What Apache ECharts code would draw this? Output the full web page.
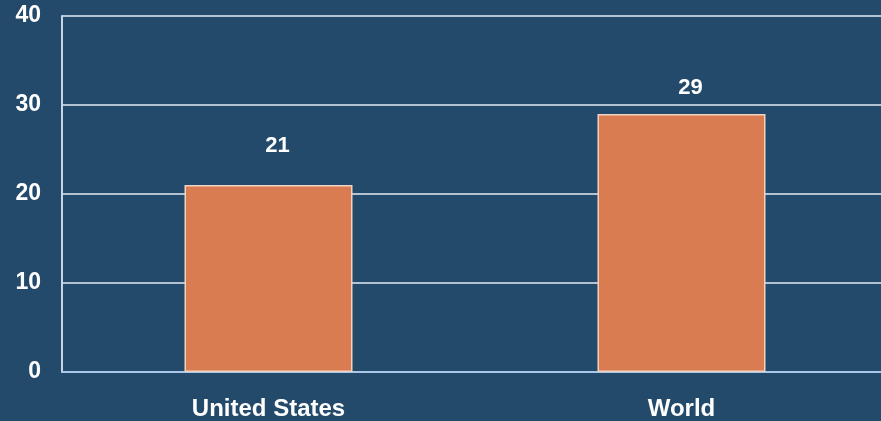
<!DOCTYPE html>
<html><head><meta charset="utf-8">
<script src="https://cdn.jsdelivr.net/npm/echarts@6/dist/echarts.min.js"></script>
<style>html,body{margin:0;padding:0;background:#234A6B;overflow:hidden;width:881px;height:421px}#c{width:888px;height:421px}</style>
</head><body><div id="c"></div>
<script>
const categories = ["United States", "World"];
const values = [21, 29];
const labelDistances = [28, 15];
const yTicks = [0, 10, 20, 30, 40];

const FONT = 'Liberation Sans, Arial, sans-serif';
const chart = echarts.init(document.getElementById('c'));
chart.setOption({
  backgroundColor: '#234A6B',
  animation: false,
  grid: { left: 62, top: 16, bottom: 49, right: 0 },
  xAxis: {
    type: 'category', data: categories,
    axisLine: { lineStyle: { color: '#A9C8E8', width: 2 } },
    axisTick: { show: false },
    axisLabel: { color: '#FFFFFF', fontFamily: FONT, fontWeight: 'bold', fontSize: 24, margin: 25 }
  },
  yAxis: {
    type: 'value', min: yTicks[0], max: yTicks[yTicks.length-1], interval: 10,
    axisLine: { show: true, lineStyle: { color: '#C8D6E4', width: 2 } },
    axisTick: { show: false },
    splitLine: { lineStyle: { color: '#E4ECF4', width: 1.5 } },
    axisLabel: { color: '#FFFFFF', fontFamily: FONT, fontWeight: 'bold', fontSize: 23, margin: 21, padding: [5, 0, 0, 0] }
  },
  series: [{
    type: 'bar',
    data: values.map((v, i) => ({ value: v, label: { distance: labelDistances[i] } })),
    barWidth: 168,
    itemStyle: { color: '#D97C52', borderColor: '#F2D3C2', borderWidth: 1.5 },
    label: { show: true, position: 'top', offset: [9, 0], color: '#FFFFFF', fontFamily: FONT, fontWeight: 'bold', fontSize: 22 }
  }]
});
</script></body></html>
